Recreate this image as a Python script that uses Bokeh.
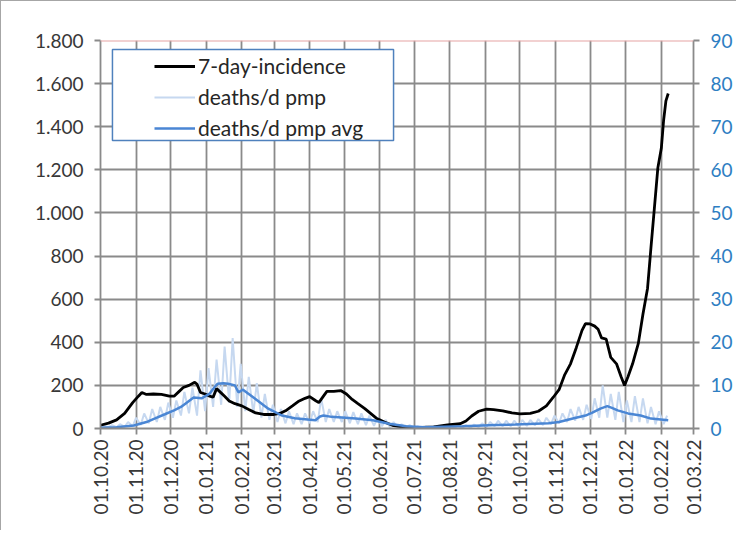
import pandas as pd
from bokeh.plotting import figure
from bokeh.models import (Range1d, LinearAxis, FixedTicker, Legend, LegendItem,
                          BoxAnnotation, Span, ColumnDataSource)
from bokeh.embed import file_html
from bokeh.resources import INLINE

# ---------------- data ----------------
start = pd.Timestamp("2020-10-01")

x_tick_dates = ["2020-10-01", "2020-11-01", "2020-12-01", "2021-01-01", "2021-02-01",
                "2021-03-01", "2021-04-01", "2021-05-01", "2021-06-01", "2021-07-01",
                "2021-08-01", "2021-09-01", "2021-10-01", "2021-11-01", "2021-12-01",
                "2022-01-01", "2022-02-01", "2022-03-01"]
x_tick_labels = ["01.10.20", "01.11.20", "01.12.20", "01.01.21", "01.02.21", "01.03.21",
                 "01.04.21", "01.05.21", "01.06.21", "01.07.21", "01.08.21", "01.09.21",
                 "01.10.21", "01.11.21", "01.12.21", "01.01.22", "01.02.22", "01.03.22"]

y_ticks = [0, 200, 400, 600, 800, 1000, 1200, 1400, 1600, 1800]
y_tick_labels = ["0", "200", "400", "600", "800", "1.000", "1.200", "1.400", "1.600", "1.800"]
y2_ticks = [0, 10, 20, 30, 40, 50, 60, 70, 80, 90]

inc_dates = ["2020-10-01", "2020-10-08", "2020-10-15", "2020-10-22", "2020-10-29", "2020-11-03",
             "2020-11-06", "2020-11-10", "2020-11-16", "2020-11-23", "2020-11-30", "2020-12-04",
             "2020-12-08", "2020-12-12", "2020-12-17", "2020-12-22", "2020-12-24", "2020-12-27",
             "2020-12-31", "2021-01-04", "2021-01-07", "2021-01-10", "2021-01-13", "2021-01-17",
             "2021-01-21", "2021-01-26", "2021-02-01", "2021-02-07", "2021-02-13", "2021-02-20",
             "2021-03-01", "2021-03-06", "2021-03-11", "2021-03-17", "2021-03-22", "2021-03-28",
             "2021-04-01", "2021-04-06", "2021-04-09", "2021-04-13", "2021-04-16", "2021-04-22",
             "2021-04-28", "2021-05-03", "2021-05-08", "2021-05-13", "2021-05-19", "2021-05-24",
             "2021-05-29", "2021-06-05", "2021-06-12", "2021-06-20", "2021-06-28", "2021-07-08",
             "2021-07-18", "2021-07-30", "2021-08-10", "2021-08-15", "2021-08-20", "2021-08-26",
             "2021-09-02", "2021-09-08", "2021-09-16", "2021-09-24", "2021-10-01", "2021-10-10",
             "2021-10-17", "2021-10-24", "2021-10-30", "2021-11-04", "2021-11-09", "2021-11-14",
             "2021-11-19", "2021-11-24", "2021-11-27", "2021-12-01", "2021-12-05", "2021-12-08",
             "2021-12-11", "2021-12-15", "2021-12-19", "2021-12-24", "2021-12-28", "2021-12-31",
             "2022-01-03", "2022-01-07", "2022-01-12", "2022-01-16", "2022-01-20", "2022-01-23",
             "2022-01-26", "2022-01-29", "2022-02-01", "2022-02-03", "2022-02-05", "2022-02-07"]
inc_values = [15, 25, 40, 70, 120, 150,
              167, 158, 160, 158, 150, 150,
              170, 190, 200, 215, 205, 167,
              160, 150, 145, 185, 170, 150,
              128, 115, 105, 88, 72, 65,
              65, 70, 82, 105, 125, 140,
              148, 130, 120, 150, 172, 172,
              176, 160, 135, 115, 92, 70,
              48, 30, 15, 8, 5, 5,
              7, 17, 22, 35, 58, 80,
              90, 88, 82, 72, 68, 70,
              80, 105, 145, 180, 250, 300,
              375, 455, 487, 485, 475, 460,
              420, 415, 330, 300, 240, 200,
              240, 300, 395, 530, 650, 840,
              1025, 1210, 1300, 1430, 1520, 1554]

avg_dates = ["2020-10-01", "2020-10-15", "2020-10-30", "2020-11-10", "2020-11-17", "2020-11-26",
             "2020-12-04", "2020-12-10", "2020-12-15", "2020-12-21", "2020-12-28", "2021-01-04",
             "2021-01-08", "2021-01-11", "2021-01-16", "2021-01-20", "2021-01-26", "2021-01-29",
             "2021-02-02", "2021-02-07", "2021-02-12", "2021-02-18", "2021-02-24", "2021-03-08",
             "2021-03-19", "2021-04-06", "2021-04-10", "2021-04-13", "2021-04-20", "2021-04-26",
             "2021-05-11", "2021-05-26", "2021-06-09", "2021-06-24", "2021-07-10", "2021-08-12",
             "2021-09-10", "2021-09-27", "2021-10-26", "2021-11-04", "2021-11-16", "2021-11-27",
             "2021-12-03", "2021-12-10", "2021-12-16", "2021-12-20", "2021-12-25", "2022-01-03",
             "2022-01-14", "2022-01-23", "2022-02-07"]
avg_values = [0.2, 0.3, 0.7, 1.5, 2.3, 3.3,
              4.2, 5.0, 6.0, 7.2, 7.0, 8.1,
              9.5, 10.4, 10.5, 10.4, 10.0, 8.4,
              9.0, 8.0, 7.0, 5.8, 4.6, 3.0,
              2.4, 1.9, 2.8, 3.0, 2.7, 2.6,
              2.3, 1.9, 1.1, 0.5, 0.3, 0.5,
              0.8, 0.9, 1.2, 1.5, 2.3, 3.0,
              3.7, 4.6, 5.2, 4.8, 4.2, 3.5,
              3.0, 2.3, 1.9]

# raw daily deaths: weekly low / high pairs, weeks starting 2020-10-01
raw_lows = [0.2, 0.3, 0.3, 0.4, 0.5, 0.8, 1.2, 1.5, 2.0, 2.5, 3.0, 3.5, 3.0, 4.0, 5.0, 5.5,
            6.0, 5.0, 4.0, 3.5, 2.5, 2.0, 1.5, 1.2, 1.0, 1.0, 1.2, 1.5, 1.5, 1.5, 1.5, 1.2,
            1.0, 0.8, 0.6, 0.5, 0.3, 0.2, 0.1, 0.1, 0.1, 0.1, 0.1, 0.1, 0.2, 0.2, 0.2, 0.3,
            0.4, 0.5, 0.5, 0.5, 0.5, 0.6, 0.7, 0.8, 1.0, 1.2, 1.5, 1.8, 2.0, 2.2, 2.5, 2.5,
            2.0, 1.5, 1.5, 1.5, 1.2, 1.0, 1.0]
raw_highs = [0.6, 0.8, 1.0, 1.5, 2.5, 3.5, 4.5, 5.0, 6.0, 6.5, 8.5, 9.5, 13.5, 14.0, 16.0, 19.0,
             21.0, 15.0, 12.0, 10.5, 8.0, 5.5, 4.5, 4.0, 3.5, 3.5, 4.0, 7.0, 4.5, 4.0, 4.0, 3.8,
             3.5, 3.0, 2.5, 2.0, 1.5, 1.0, 0.8, 0.5, 0.5, 0.4, 0.5, 0.6, 0.7, 0.8, 0.9, 1.2,
             1.5, 1.8, 1.8, 1.8, 2.0, 2.0, 2.2, 2.5, 3.0, 3.5, 4.5, 5.0, 5.5, 7.0, 10.0, 8.0,
             8.5, 6.5, 7.5, 7.0, 5.0, 4.0, 3.0]


def days(ds):
    return [(pd.Timestamp(d) - start).days for d in ds]


x_ticks = days(x_tick_dates)

raw_x, raw_y = [], []
for k, (lo, hi) in enumerate(zip(raw_lows, raw_highs)):
    raw_x += [7 * k, 7 * k + 3]
    raw_y += [lo, hi]

inc_src = ColumnDataSource(dict(x=days(inc_dates), y=inc_values))
avg_src = ColumnDataSource(dict(x=days(avg_dates), y=avg_values))
raw_src = ColumnDataSource(dict(x=raw_x, y=raw_y))

# ---------------- figure ----------------
FONT = "Lato"
GRID = "#8a8a8a"
BLUE = "#4A86D4"
LIGHT = "#C6D8F0"
AXBLUE = "#2E7EC2"

p = figure(width=736, height=530, output_backend="svg", toolbar_location=None,
           x_range=Range1d(x_ticks[0], x_ticks[-1]), y_range=Range1d(0, 1800),
           min_border_left=99, min_border_right=44, min_border_top=39, min_border_bottom=103)
p.styles = {"border-left": "1.5px solid #a6a6a6", "border-top": "1.5px solid #a6a6a6"}
p.outline_line_color = None
p.background_fill_color = "white"
p.border_fill_color = "white"
p.extra_y_ranges = {"right": Range1d(0, 90)}

xt = FixedTicker(ticks=x_ticks)
yt = FixedTicker(ticks=y_ticks)

p.xaxis.ticker = xt
p.xaxis.major_label_overrides = dict(zip(x_ticks, x_tick_labels))
p.xaxis.major_label_orientation = 1.5707963267948966
p.yaxis.ticker = yt
p.yaxis.major_label_overrides = dict(zip(y_ticks, y_tick_labels))

right = LinearAxis(y_range_name="right", ticker=FixedTicker(ticks=y2_ticks))
p.add_layout(right, "right")

for ax in [p.xaxis[0], p.yaxis[0], right]:
    ax.axis_line_color = GRID
    ax.axis_line_width = 1.8
    ax.major_tick_line_color = GRID
    ax.major_tick_line_width = 1.8
    ax.major_tick_out = 6
    ax.major_tick_in = 0
    ax.minor_tick_line_color = None
    ax.major_label_text_font = FONT
    ax.major_label_text_font_size = "19px"
    ax.major_label_text_color = "#383838"
    ax.major_label_standoff = 11
p.xaxis.major_label_standoff = 5
right.major_label_text_color = AXBLUE
right.major_label_text_font_size = "19px"

p.xgrid.ticker = xt
p.ygrid.ticker = yt
for g in [p.xgrid[0], p.ygrid[0]]:
    g.grid_line_color = GRID
    g.grid_line_width = 1.8

p.add_layout(Span(location=1800, dimension="width", line_color="#E6A3A3", line_width=1.8))

r_raw = p.line("x", "y", source=raw_src, line_color=LIGHT, line_width=2, y_range_name="right")
r_inc = p.line("x", "y", source=inc_src, line_color="black", line_width=2.8)
r_avg = p.line("x", "y", source=avg_src, line_color=BLUE, line_width=2.5, y_range_name="right")

box = BoxAnnotation(left=10.4, right=255, top=1758, bottom=1336,
                    fill_color="white", fill_alpha=1.0,
                    line_color="#4F81BD", line_alpha=1.0, line_width=1.5, level="annotation")
p.add_layout(box)

legend = Legend(items=[LegendItem(label="7-day-incidence", renderers=[r_inc]),
                       LegendItem(label="deaths/d pmp", renderers=[r_raw]),
                       LegendItem(label="deaths/d pmp avg", renderers=[r_avg])],
                location=(54, 288), padding=0, spacing=6, margin=0,
                glyph_width=41, glyph_height=24, label_height=24, label_standoff=3,
                border_line_color=None, background_fill_alpha=0,
                label_text_font=FONT, label_text_font_size="21px", label_text_color="#262626")
p.add_layout(legend)

open("out.html", "w").write(file_html(p, INLINE))
